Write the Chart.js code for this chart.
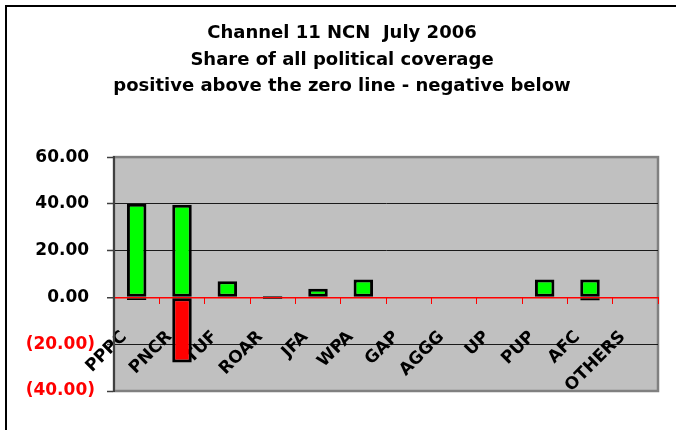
<!DOCTYPE html>
<html>
<head>
<meta charset="utf-8">
<title>Channel 11 NCN July 2006</title>
<script src="https://cdn.jsdelivr.net/npm/chart.js@4"></script>
<style>
  html, body { margin:0; padding:0; background:#fff; overflow:hidden; }
  #wrap { position:relative; width:676px; height:430px; overflow:hidden; }
  #frame { position:absolute; left:5px; top:5px; width:690px; height:440px; border-left:2px solid #000; border-top:2px solid #000; }
  #chart { position:absolute; left:0; top:0; }
</style>
</head>
<body>
<div id="wrap">
  <div id="frame"></div>
  <canvas id="chart" width="676" height="430"></canvas>
</div>
<script>
/* data */
const parties = ['PPPC','PNCR','TUF','ROAR','JFA','WPA','GAP','AGGG','UP','PUP','AFC','OTHERS'];
const positiveShare = [40.0, 39.6, 6.9, 0.6, 3.7, 7.7, 0, 0, 0, 7.7, 7.7, 0];
const negativeShare = [-1.1, -27.8, 0, -0.7, 0, 0, 0, 0, 0, 0, -1.3, 0];
const yTicks = [-40, -20, 0, 20, 40, 60];
const titleLines = [
  'Channel 11 NCN  July 2006',
  'Share of all political coverage',
  'positive above the zero line - negative below'
];

Chart.defaults.font.family = "'DejaVu Sans', sans-serif";

// excel style number: 20.00 / (20.00)
function fmtShare(v) {
  return v < 0 ? '(' + Math.abs(v).toFixed(2) + ')' : v.toFixed(2) + ' ';
}

// grey plot area with its frame
const plotBackdrop = {
  id: 'plotBackdrop',
  beforeDraw(chart) {
    const { ctx, chartArea: a } = chart;
    ctx.save();
    ctx.fillStyle = '#c0c0c0';
    ctx.fillRect(a.left, a.top, a.width, a.height);
    ctx.strokeStyle = '#808080';
    ctx.lineWidth = 2.5;
    ctx.strokeRect(a.left, a.top, a.width, a.height);
    ctx.restore();
  }
};

new Chart(document.getElementById('chart').getContext('2d'), {
  type: 'bar',
  data: {
    labels: parties,
    datasets: [
      { label: 'positive', data: positiveShare, backgroundColor: '#00ff00', borderColor: '#000', borderWidth: 3, borderSkipped: false },
      { label: 'negative', data: negativeShare, backgroundColor: '#ff0000', borderColor: '#000', borderWidth: 3, borderSkipped: false }
    ]
  },
  options: {
    responsive: false,
    devicePixelRatio: 1,
    animation: false,
    categoryPercentage: 1,
    barPercentage: 0.43,
    layout: { padding: { left: 26, right: 18, top: 0, bottom: 39 } },
    plugins: {
      legend: { display: false },
      tooltip: { enabled: false },
      title: {
        display: true,
        text: titleLines,
        color: '#000',
        font: { size: 18, weight: 'bold', lineHeight: 1.483 },
        padding: { top: 20, bottom: 57 }
      }
    },
    scales: {
      x: {
        type: 'category',
        stacked: true,
        position: { y: 0 },
        offset: true,
        z: 1,
        grid: { offset: true, drawOnChartArea: false, drawTicks: true, tickLength: 7, color: '#ff0000', lineWidth: 1 },
        border: { display: false },
        ticks: {
          autoSkip: false, minRotation: 45, maxRotation: 45, padding: 10,
          color: '#000', font: { size: 17, weight: 'bold' },
          callback: function (v) { return this.getLabelForValue(v) + '   '; }
        },
        afterFit: s => { s.paddingLeft = 0; s.paddingRight = 0; }
      },
      y: {
        stacked: true,
        min: -40, max: 60,
        afterBuildTicks: s => { s.ticks = yTicks.map(v => ({ value: v })); },
        grid: {
          color: c => c.tick.value === 0 ? '#ff0000' : (c.tick.value === 60 || c.tick.value === -40 ? 'rgba(0,0,0,0)' : '#1a1a1a'),
          lineWidth: c => c.tick.value === 0 ? 1.5 : 1,
          tickColor: '#404040',
          tickWidth: 1.5,
          tickLength: 7
        },
        border: { color: '#404040', width: 2 },
        ticks: {
          padding: 12,
          font: { size: 17, weight: 'bold' },
          color: c => c.tick.value < 0 ? '#ff0000' : '#000',
          callback: v => fmtShare(v)
        },
        afterFit: s => { s.width = 88; s.paddingTop = 0; s.paddingBottom = 0; }
      }
    }
  },
  plugins: [plotBackdrop]
});
</script>
</body>
</html>
